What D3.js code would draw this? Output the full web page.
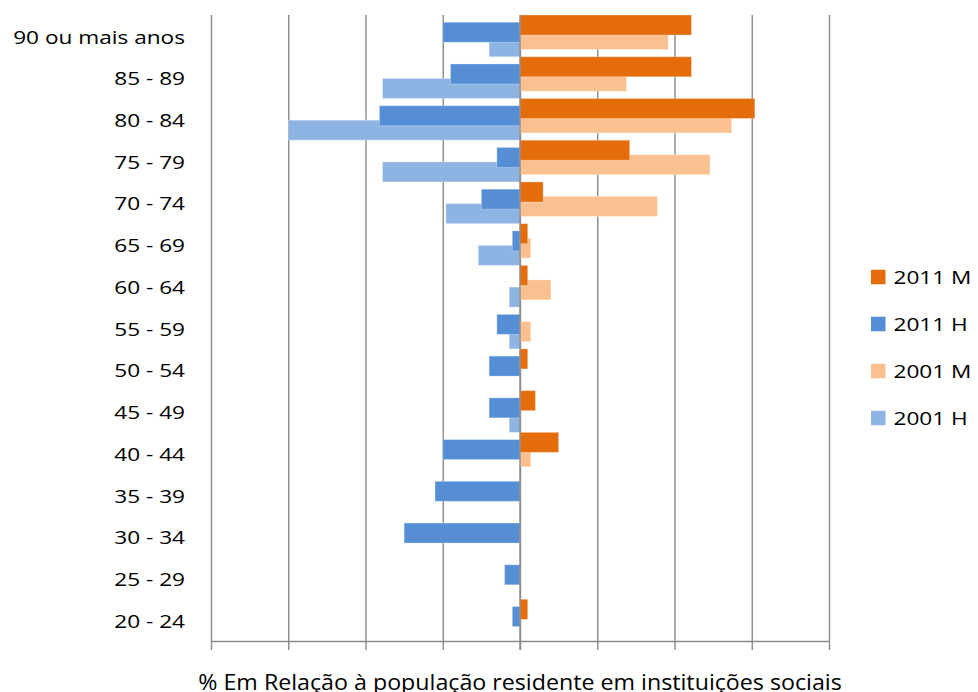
<!DOCTYPE html>
<html>
<head>
<meta charset="utf-8">
<script src="https://cdn.jsdelivr.net/npm/d3@7"></script>
<style>
  html, body { margin: 0; padding: 0; background: #fff; }
  svg { display: block; }
  text { font-family: "Open Sans", "Noto Sans", sans-serif; font-weight: 400; fill: #000; }
</style>
</head>
<body>
<svg id="chart" width="978" height="692"></svg>
<script>
// Age groups, oldest at the top
const categories = ["90 ou mais anos", "85 - 89", "80 - 84", "75 - 79", "70 - 74", "65 - 69",
  "60 - 64", "55 - 59", "50 - 54", "45 - 49", "40 - 44", "35 - 39", "30 - 34", "25 - 29", "20 - 24"];

// Share (%) of the institutionalised population in each age group
const mulheres2011 = [11.1, 11.1, 15.2, 7.1, 1.5, 0.5, 0.5, 0, 0.5, 1.0, 2.5, 0, 0, 0, 0.5];
const homens2011   = [5.0, 4.5, 9.1, 1.5, 2.5, 0.5, 0, 1.5, 2.0, 2.0, 5.0, 5.5, 7.5, 1.0, 0.5];
const mulheres2001 = [9.6, 6.9, 13.7, 12.3, 8.9, 0.7, 2.0, 0.7, 0, 0, 0.7, 0, 0, 0, 0];
const homens2001   = [2.0, 8.9, 15.0, 8.9, 4.8, 2.7, 0.7, 0.7, 0, 0.7, 0, 0, 0, 0, 0];

const xTicks = [-20, -15, -10, -5, 0, 5, 10, 15, 20];

// Series in cluster order (top of each band first); men drawn to the left
const series = [
  { name: "2011 M", values: mulheres2011, side: 1,  color: "#E46C0A" },
  { name: "2011 H", values: homens2011,   side: -1, color: "#558ED5" },
  { name: "2001 M", values: mulheres2001, side: 1,  color: "#FAC090" },
  { name: "2001 H", values: homens2001,   side: -1, color: "#8EB4E3" }
];

const svg = d3.select("#chart");
const plot = { left: 211, right: 829, top: 15, bottom: 641 };

const x = d3.scaleLinear().domain([-20, 20]).range([plot.left, plot.right]);
const y = d3.scaleBand().domain(categories).range([plot.top, plot.bottom]).paddingInner(0).paddingOuter(0);

// Overlapping clustered bars: each bar covers ~48% of the band, shifted by ~17%
const barH = y.bandwidth() * 0.48;
const slot = d3.scaleLinear().domain([0, series.length - 1]).range([0, y.bandwidth() - barH]);

// Vertical gridlines
svg.append("g")
  .attr("transform", `translate(0,${plot.bottom})`)
  .call(d3.axisTop(x).tickValues(xTicks).tickSize(plot.bottom - plot.top).tickFormat(""))
  .call(g => g.select(".domain").remove())
  .call(g => g.selectAll("line").attr("stroke", "#8a8a8a").attr("stroke-width", 1.4));

// Bars: older series underneath so 2011 sits on top
const bars = svg.append("g");
series.map((s, i) => ({ s, i })).reverse().forEach(({ s, i }) => {
  bars.append("g").selectAll("rect")
    .data(s.values.map((v, k) => ({ v, cat: categories[k] })).filter(d => d.v > 0))
    .join("rect")
    .attr("x", d => s.side > 0 ? x(0) : x(-d.v))
    .attr("width", d => Math.abs(x(d.v) - x(0)))
    .attr("y", d => y(d.cat) + slot(i))
    .attr("height", barH)
    .attr("fill", s.color)
    .attr("stroke", "#fff")
    .attr("stroke-opacity", 0.3)
    .attr("stroke-width", 1);
});

// Centre line at zero
svg.append("line")
  .attr("x1", x(0)).attr("x2", x(0))
  .attr("y1", plot.top).attr("y2", plot.bottom + 9)
  .attr("stroke", "#8a8a8a").attr("stroke-width", 1.4);

// Bottom axis with ticks, no labels
svg.append("g")
  .attr("transform", `translate(0,${plot.bottom})`)
  .call(d3.axisBottom(x).tickValues(xTicks).tickSize(9).tickSizeOuter(0).tickFormat(""))
  .call(g => g.select(".domain").attr("stroke", "#8a8a8a").attr("stroke-width", 1.4))
  .call(g => g.selectAll("line").attr("stroke", "#8a8a8a").attr("stroke-width", 1.4));

// Category labels, widened to fill the left margin
const labelSize = 18.5;
const probe = svg.append("text").attr("font-size", labelSize).text(categories[0]);
const sx = 172 / probe.node().getComputedTextLength();
probe.remove();

svg.append("g").selectAll("text")
  .data(categories)
  .join("text")
  .attr("transform", d => `translate(185,${y(d) + y.bandwidth() / 2 + 1}) scale(${sx},1)`)
  .attr("text-anchor", "end")
  .attr("dy", "0.36em")
  .attr("font-size", labelSize)
  .text(d => d);

// Axis title, spanning the plot width
const title = svg.append("text")
  .attr("text-anchor", "middle")
  .attr("font-size", 21)
  .text("% Em Relação à população residente em instituições sociais");
const tsx = 644 / title.node().getComputedTextLength();
title.attr("transform", `translate(${x(0)},690) scale(${tsx},1)`);

// Legend
const legend = svg.append("g").selectAll("g")
  .data(series)
  .join("g")
  .attr("transform", (d, i) => `translate(871,${277 + i * 47})`);
legend.append("rect")
  .attr("x", 0).attr("y", -7.25)
  .attr("width", 14.5).attr("height", 14.5)
  .attr("fill", d => d.color);
legend.append("text")
  .attr("transform", `translate(22.5,0) scale(${sx},1)`)
  .attr("dy", "0.36em")
  .attr("font-size", labelSize)
  .text(d => d.name);
</script>
</body>
</html>
